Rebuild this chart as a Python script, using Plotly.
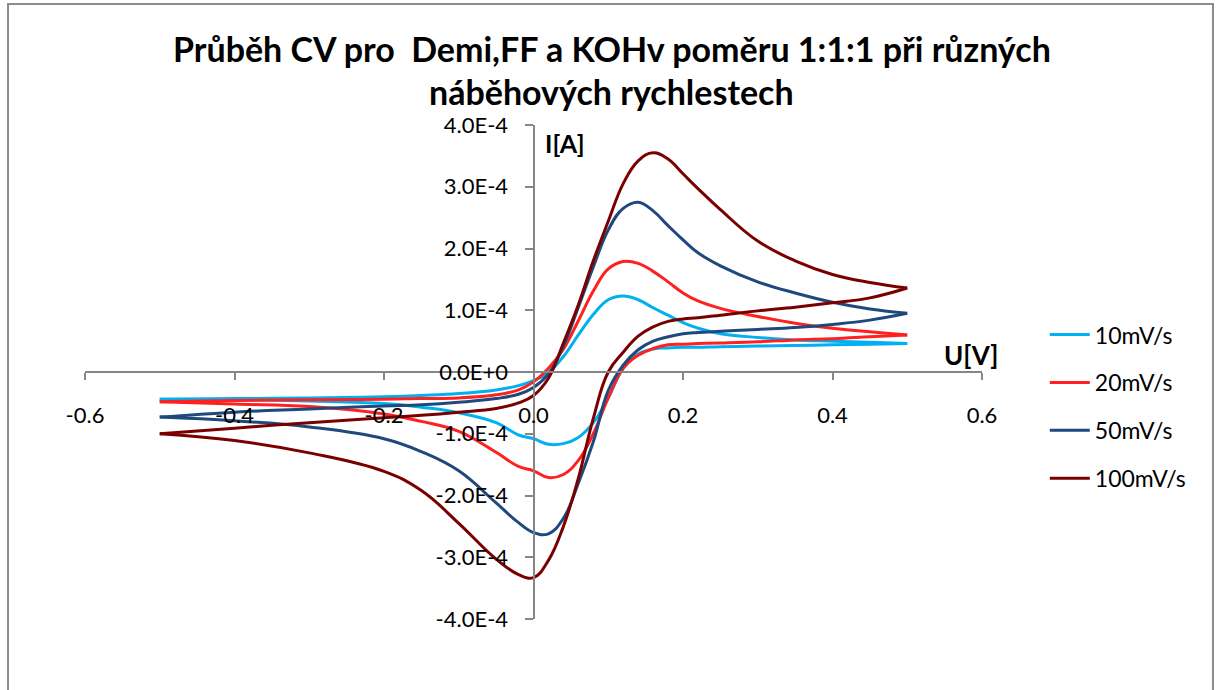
import plotly.graph_objects as go

# ===== data (current in 1e-4 A) =====
E_FWD = [-0.5, -0.4, -0.3, -0.2, -0.15, -0.1, -0.05, -0.02, 0.0, 0.02, 0.04, 0.06, 0.08,
         0.10, 0.12, 0.14, 0.16, 0.18, 0.20, 0.22, 0.25, 0.30, 0.35, 0.40, 0.45, 0.50]
E_REV = E_FWD[::-1]

I_10_FWD = [-0.44, -0.43, -0.42, -0.40, -0.38, -0.35, -0.29, -0.22, -0.14, -0.01, 0.25, 0.60, 0.93,
            1.17, 1.23, 1.17, 1.04, 0.92, 0.80, 0.71, 0.62, 0.56, 0.52, 0.50, 0.48, 0.46]
I_10_REV = [0.46, 0.45, 0.44, 0.43, 0.42, 0.41, 0.40, 0.40, 0.39, 0.37, 0.29, 0.06, -0.42,
            -0.82, -1.06, -1.16, -1.17, -1.08, -1.02, -0.82, -0.66, -0.57, -0.51, -0.47, -0.45, -0.44]

I_20_FWD = [-0.48, -0.46, -0.45, -0.44, -0.43, -0.42, -0.37, -0.29, -0.16, 0.06, 0.37, 0.83, 1.31,
            1.67, 1.79, 1.76, 1.63, 1.46, 1.28, 1.15, 1.03, 0.90, 0.79, 0.71, 0.65, 0.60]
I_20_REV = [0.60, 0.57, 0.54, 0.52, 0.49, 0.47, 0.46, 0.45, 0.44, 0.38, 0.27, 0.06, -0.42,
            -1.00, -1.43, -1.66, -1.71, -1.60, -1.53, -1.30, -0.96, -0.80, -0.68, -0.56, -0.52, -0.48]

I_50_FWD = [-0.73, -0.65, -0.60, -0.55, -0.53, -0.49, -0.43, -0.36, -0.25, -0.03, 0.42, 1.05, 1.70,
            2.30, 2.65, 2.75, 2.61, 2.37, 2.14, 1.93, 1.72, 1.46, 1.28, 1.13, 1.02, 0.95]
I_50_REV = [0.95, 0.84, 0.77, 0.72, 0.69, 0.66, 0.64, 0.62, 0.57, 0.50, 0.36, 0.11, -0.30,
            -1.13, -1.80, -2.37, -2.62, -2.60, -2.44, -2.12, -1.60, -1.29, -1.08, -0.89, -0.79, -0.73]

I_100_FWD = [-1.00, -0.91, -0.82, -0.74, -0.70, -0.65, -0.59, -0.50, -0.38, -0.10, 0.47, 1.09, 1.80,
             2.44, 3.05, 3.42, 3.55, 3.45, 3.21, 2.97, 2.63, 2.12, 1.80, 1.58, 1.45, 1.36]
I_100_REV = [1.36, 1.20, 1.12, 1.05, 0.99, 0.92, 0.88, 0.86, 0.82, 0.73, 0.58, 0.32, 0.00,
             -0.75, -1.72, -2.50, -3.05, -3.33, -3.28, -3.03, -2.45, -1.92, -1.61, -1.31, -1.11, -1.00]

SERIES = ["10mV/s", "20mV/s", "50mV/s", "100mV/s"]
COLORS = ["#00B0F0", "#FF2020", "#1F497D", "#7A0000"]

X_TICKS = [-0.6, -0.4, -0.2, 0.0, 0.2, 0.4, 0.6]
X_TICKTEXT = ["-0.6", "-0.4", "-0.2", "0.0", "0.2", "0.4", "0.6"]
Y_TICKS = [-4e-4, -3e-4, -2e-4, -1e-4, 0.0, 1e-4, 2e-4, 3e-4, 4e-4]
Y_TICKTEXT = ["-4.0E-4", "-3.0E-4", "-2.0E-4", "-1.0E-4", "0.0E+0", "1.0E-4", "2.0E-4", "3.0E-4", "4.0E-4"]

FONT = "Lato"
AXIS_GRAY = "#868686"

fig = go.Figure()

branches = [(I_10_FWD, I_10_REV), (I_20_FWD, I_20_REV), (I_50_FWD, I_50_REV), (I_100_FWD, I_100_REV)]
for name, color, (fwd, rev) in zip(SERIES, COLORS, branches):
    for i, (ee, ii) in enumerate([(E_FWD, fwd), (E_REV, rev)]):
        fig.add_trace(go.Scatter(
            x=ee, y=[v * 1e-4 for v in ii], mode="lines", name=name,
            legendgroup=name, showlegend=(i == 0),
            line=dict(color=color, width=3, shape="spline", smoothing=1.2),
        ))

fig.update_layout(
    width=1217, height=690,
    margin=dict(l=85, r=235, t=125, b=71),
    paper_bgcolor="white", plot_bgcolor="white",
    font=dict(family=FONT, color="black", size=22),
    showlegend=True,
    legend=dict(x=1.07, y=0.43, xanchor="left", yanchor="middle",
                font=dict(size=23), tracegroupgap=15, itemwidth=40,
                bgcolor="rgba(0,0,0,0)"),
)

fig.update_xaxes(
    range=[-0.6, 0.6], anchor="free", position=0.5,
    showgrid=False, zeroline=False, showline=True, linecolor=AXIS_GRAY, linewidth=2,
    ticks="outside", ticklen=7, tickwidth=2, tickcolor=AXIS_GRAY,
    tickvals=X_TICKS, ticktext=X_TICKTEXT, ticklabelstandoff=17,
    tickfont=dict(size=22),
)
fig.update_yaxes(
    range=[-4e-4, 4e-4], anchor="free", position=0.5,
    showgrid=False, zeroline=False, showline=True, linecolor=AXIS_GRAY, linewidth=2,
    ticks="outside", ticklen=8, tickwidth=2, tickcolor=AXIS_GRAY,
    tickvals=Y_TICKS, ticktext=Y_TICKTEXT, ticklabelstandoff=12,
    tickfont=dict(size=22),
)

# titles
fig.add_annotation(text="<b>Průběh CV pro\u00a0 Demi,FF a KOHv poměru 1:1:1 při různých</b>",
                   xref="paper", yref="paper", x=0.587, y=1.154, showarrow=False,
                   font=dict(size=34), xanchor="center", yanchor="middle")
fig.add_annotation(text="<b>náběhových rychlestech</b>",
                   xref="paper", yref="paper", x=0.587, y=1.068, showarrow=False,
                   font=dict(size=34), xanchor="center", yanchor="middle")
fig.add_annotation(text="<b>I[A]</b>", xref="paper", yref="paper", x=0.535, y=0.964,
                   showarrow=False, font=dict(size=25), xanchor="center", yanchor="middle")
fig.add_annotation(text="<b>U[V]</b>", xref="paper", yref="paper", x=0.988, y=0.534,
                   showarrow=False, font=dict(size=26), xanchor="center", yanchor="middle")

# chart border
fig.add_shape(type="rect", xref="paper", yref="paper",
              x0=-0.0858, x1=1.2575, y0=-0.3, y1=1.245,
              line=dict(color="#8C8C8C", width=2), layer="below")

fig.write_html("out.html", config={"displayModeBar": False},
               post_script="document.body.style.margin = '0';")
